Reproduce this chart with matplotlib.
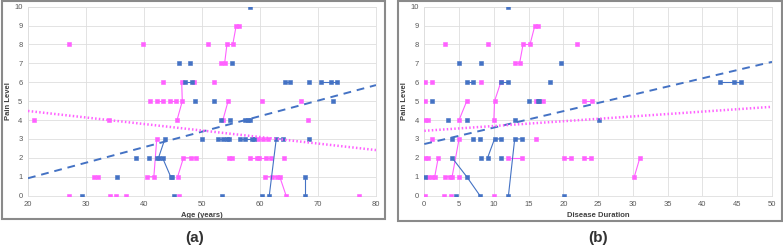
import matplotlib.pyplot as plt
from matplotlib.patches import Rectangle

plt.rcParams['font.family'] = ['Liberation Sans', 'DejaVu Sans']

PINK = '#ff61ff'
BLUE = '#4472c4'

# (a) pain vs age, one list per patient (points in a list are joined)
age_pink = [
    [(21.1, 4)], [(27.1, 8)], [(27.1, 0)], [(31.4, 1)], [(32.1, 1)], [(34.1, 0)], [(34.0, 4)],
    [(35.1, 0), (36.9, 0)], [(39.8, 8)], [(41.0, 5)], [(43.3, 6)],
    [(40.6, 1), (41.7, 1), (42.2, 3)],
    [(45.8, 1), (46.8, 2), (48.1, 2), (49.0, 2)],
    [(45.7, 4), (46.6, 5), (46.5, 6)],
    [(42.2, 5), (43.3, 5)], [(44.5, 5), (45.6, 5)],
    [(46.1, 0)], [(48.7, 6)], [(51.1, 8)], [(52.1, 6)],
    [(53.6, 4), (54.5, 5)],
    [(53.3, 7), (53.9, 7), (54.3, 8), (55.3, 8), (55.9, 9), (56.4, 9)],
    [(54.7, 2), (55.1, 2)],
    [(58.3, 2), (59.4, 2), (59.9, 2), (61.0, 2), (61.9, 2)],
    [(59.7, 3), (60.6, 3), (61.3, 3)],
    [(60.9, 1), (62.0, 1), (62.9, 1), (63.4, 1), (64.5, 0)],
    [(60.3, 5)], [(64.2, 2)], [(67.0, 5)], [(68.2, 4)], [(77.1, 0)],
]
age_blue = [
    [(29.3, 0)], [(35.3, 1)], [(38.6, 2)], [(40.9, 2)], [(42.2, 2)],
    [(42.5, 2), (43.6, 3)],
    [(43.2, 2), (44.6, 1), (44.9, 1)],
    [(45.1, 0)], [(46.1, 7)], [(47.9, 7)], [(47.1, 6), (48.2, 6)], [(48.8, 5)],
    [(50.0, 3)], [(52.1, 5)], [(53.3, 4)], [(54.9, 4)], [(55.1, 7)], [(53.4, 0)],
    [(52.8, 3), (53.7, 3), (54.3, 3), (54.7, 3)],
    [(56.6, 3), (57.4, 3), (58.6, 3), (58.9, 3)],
    [(57.4, 4), (58.0, 4), (58.3, 4)],
    [(58.3, 10)], [(60.3, 0)],
    [(61.6, 0), (62.8, 3), (63.9, 3)],
    [(64.3, 6), (65.2, 6)], [(67.8, 0), (67.8, 1)],
    [(68.5, 6)], [(68.5, 3)],
    [(70.5, 6), (72.2, 6), (73.2, 6)], [(72.6, 5)],
]

# (b) pain vs disease duration
dur_pink = [
    [(0.1, 6)], [(1.1, 6)], [(0.1, 5)], [(0.1, 4)], [(0.6, 4)], [(0.1, 2)], [(0.6, 2)],
    [(0.1, 0)], [(1.1, 3)], [(3.0, 8)],
    [(0.6, 1), (1.1, 1), (1.5, 1), (2.0, 2)],
    [(3.0, 1), (3.7, 1), (4.0, 1), (5.0, 3)], [(5.0, 1)],
    [(2.9, 0), (3.9, 0)],
    [(5.0, 4), (6.1, 5)], [(8.1, 6)], [(9.1, 8)],
    [(10.0, 4), (10.1, 5), (11.0, 6)], [(10.0, 0)],
    [(13.0, 7), (13.7, 7), (14.2, 8), (15.2, 8), (15.9, 9), (16.3, 9)],
    [(16.0, 5), (17.0, 5)], [(16.1, 3)],
    [(12.1, 2), (14.1, 2)], [(20.1, 2), (21.1, 2)], [(22.0, 8)],
    [(23.0, 5), (24.1, 5)], [(23.0, 2), (24.0, 2)],
    [(30.2, 1), (31.0, 2)],
]
dur_blue = [
    [(0.1, 1)], [(1.1, 5)], [(3.4, 4)], [(4.0, 3)], [(4.6, 0)], [(5.0, 7)],
    [(4.0, 2), (6.1, 1), (8.0, 0)],
    [(6.1, 4)], [(6.1, 6), (7.0, 6)], [(7.0, 3)], [(8.0, 3)], [(8.1, 7)], [(8.1, 2)],
    [(9.1, 2), (10.1, 3), (11.0, 3)], [(11.0, 2)],
    [(11.0, 6), (12.1, 6)], [(12.1, 10)],
    [(12.1, 0), (13.0, 3), (14.1, 3)], [(13.0, 4)],
    [(15.0, 5)], [(16.3, 5), (16.5, 5)], [(18.1, 6)], [(19.6, 7)], [(20.1, 0)],
    [(25.1, 4)], [(42.5, 6), (44.5, 6), (45.6, 6)],
]

# trend lines (value at left edge, value at right edge)
age_range = (20, 80)
age_trend_blue = (0.92, 5.85)
age_trend_pink = (4.48, 2.41)
dur_range = (0, 50)
dur_trend_blue = (2.73, 7.08)
dur_trend_pink = (3.43, 4.70)

fig = plt.figure(figsize=(7.83, 2.5), dpi=100)

# outer frames
fig.patches.append(Rectangle((2 / 783, 31 / 250), 383 / 783, 218 / 250, transform=fig.transFigure,
                             fill=False, edgecolor='#8a8a8a', lw=1.5))
fig.patches.append(Rectangle((398 / 783, 29 / 250), 384 / 783, 220 / 250, transform=fig.transFigure,
                             fill=False, edgecolor='#8a8a8a', lw=1.5))


def draw(ax, pink, blue, xr, tb, tp, xlabel, step):
    for tr in pink:
        xs = [p[0] for p in tr]
        ys = [p[1] for p in tr]
        ax.plot(xs, ys, color=PINK, lw=0.8, marker='s', ms=2.2, mew=0.4, zorder=3)
    for tr in blue:
        xs = [p[0] for p in tr]
        ys = [p[1] for p in tr]
        ax.plot(xs, ys, color=BLUE, lw=0.8, marker='s', ms=2.4, mew=0.4, zorder=4)
    ax.plot(xr, tb, color=BLUE, lw=1.4, ls=(0, (4, 3)), zorder=5)
    ax.plot(xr, tp, color=PINK, lw=1.8, ls=(0, (0.6, 0.9)), zorder=5)
    ax.set_xlim(*xr)
    ax.set_ylim(0, 10)
    ax.set_xticks(range(xr[0], xr[1] + 1, step))
    ax.set_yticks(range(0, 11))
    ax.grid(color='#dedede', lw=0.6)
    ax.set_axisbelow(True)
    for s in ax.spines.values():
        s.set_color('#dedede')
        s.set_linewidth(0.6)
    ax.tick_params(length=0, labelsize=5.5, colors='#595959', pad=4)
    ax.set_xlabel(xlabel, fontsize=5.5, fontweight='bold', color='#404040', labelpad=3)
    ax.set_ylabel('Pain Level', fontsize=5.5, fontweight='bold', color='#404040')
    ax.yaxis.set_label_coords(-0.047, 0.5)


ax1 = fig.add_axes([28 / 783, 54.4 / 250, 348 / 783, 188.9 / 250])
draw(ax1, age_pink, age_blue, age_range, age_trend_blue, age_trend_pink, 'Age (years)', 10)
ax2 = fig.add_axes([424.3 / 783, 54.4 / 250, 347.7 / 783, 188.9 / 250])
draw(ax2, dur_pink, dur_blue, dur_range, dur_trend_blue, dur_trend_pink, 'Disease Duration', 5)

fig.text(195 / 783, 1 - 238 / 250, '(a)', ha='center', va='center', fontsize=11, fontweight='bold', color='#333333')
fig.text(598 / 783, 1 - 238 / 250, '(b)', ha='center', va='center', fontsize=11, fontweight='bold', color='#333333')

fig.savefig('out.png', dpi=100)
